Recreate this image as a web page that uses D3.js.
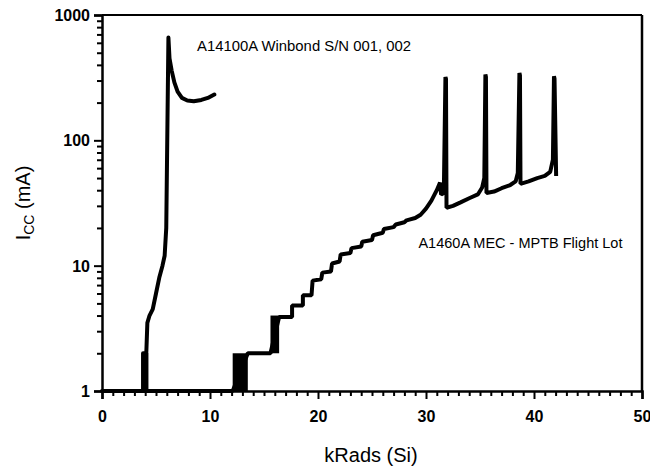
<!DOCTYPE html>
<html><head><meta charset="utf-8">
<script src="https://cdn.jsdelivr.net/npm/d3@7"></script>
<style>body{margin:0;background:#fff}svg{display:block}</style>
</head><body><svg id="c" width="650" height="466"></svg>
<script>
const xTicks = [0, 10, 20, 30, 40, 50];
const yTicks = [1, 10, 100, 1000];
const winbondX = [0, 3.8, 3.8, 4.1, 4.2, 4.4, 4.7, 5.0, 5.3, 5.6, 5.8, 5.95, 6.15, 6.25, 6.45, 6.7, 7.0, 7.4, 7.9, 8.5, 9.2, 9.8, 10.4];
const winbondY = [1, 1, 2, 2, 3.5, 4, 4.5, 6, 8, 10, 12, 20, 660, 450, 360, 290, 245, 218, 208, 205, 210, 218, 232];
const mecX = [0, 12.1, 13.5, 15.6, 16.4, 17.6, 17.6, 18.6, 18.6, 19.4, 19.5, 20.3, 20.4, 21.2, 21.3, 22.0, 22.1, 23.0, 23.1, 24.0, 24.1, 25.0, 25.1, 26.0, 26.1, 27.0, 27.2, 28.0, 28.2, 29.0, 29.5, 30.0, 30.5, 31.0, 31.3, 31.4, 31.65, 31.8, 31.85, 31.9, 32.5, 33.2, 34.0, 34.8, 35.2, 35.4, 35.5, 35.55, 35.6, 36.3, 37.0, 37.8, 38.3, 38.5, 38.65, 38.7, 38.75, 39.5, 40.3, 41.0, 41.5, 41.75, 41.85, 41.9, 42.05];
const mecY = [1, 1, 2, 2, 3.9, 3.9, 4.8, 4.8, 5.8, 5.8, 7.6, 7.8, 8.8, 9.0, 10.4, 10.8, 12.3, 12.6, 13.8, 14.2, 15.5, 16, 17.5, 18.3, 19.6, 20.3, 21.3, 22.2, 23.0, 24, 25.5, 28.5, 33, 40, 46, 37, 38, 320, 310, 29, 30, 32, 34.5, 37, 42, 50, 335, 320, 38, 39, 41.5, 44, 47, 55, 345, 330, 45, 47, 50, 52, 56, 70, 325, 310, 52];
// noisy regions drawn as filled bands
const bandX0 = [3.8, 12.1, 15.6];
const bandX1 = [4.3, 13.5, 16.4];
const bandY0 = [1, 1, 2];
const bandY1 = [2, 2, 4];
const labels = ["A14100A Winbond S/N 001, 002", "A1460A MEC - MPTB Flight Lot"];
const labelX = [8.8, 29.3];
const labelY = [516, 13.8];

const svg = d3.select("#c");
const L = 102, R = 642, T = 15, B = 391;
const x = d3.scaleLinear().domain([0, 50]).range([L, R]);
const y = d3.scaleLog().domain([1, 1000]).range([B, T]);

// frame
svg.append("line").attr("x1", L).attr("x2", R).attr("y1", T).attr("y2", T).attr("stroke", "#000").attr("stroke-width", 2);
svg.append("line").attr("x1", R).attr("x2", R).attr("y1", T).attr("y2", B).attr("stroke", "#000").attr("stroke-width", 2.5);

// axes
const minorY = [];
for (let d = 1; d < 1000; d *= 10) for (let k = 2; k <= 9; k++) minorY.push(d * k);
const minorX = d3.range(0, 51, 1).filter(v => v % 10 !== 0);

const yAx = svg.append("g").attr("transform", `translate(${L},0)`)
  .call(d3.axisLeft(y).tickValues(yTicks).tickFormat(d3.format("d")).tickSize(8).tickPadding(4));
svg.append("g").attr("transform", `translate(${L},0)`)
  .call(d3.axisLeft(y).tickValues(minorY).tickFormat("").tickSize(5))
  .call(g => g.select(".domain").remove());
const xAx = svg.append("g").attr("transform", `translate(0,${B})`)
  .call(d3.axisBottom(x).tickValues(xTicks).tickSize(8).tickPadding(12));
svg.append("g").attr("transform", `translate(0,${B})`)
  .call(d3.axisBottom(x).tickValues(minorX).tickFormat("").tickSize(5))
  .call(g => g.select(".domain").remove());
svg.selectAll(".tick line").attr("stroke-width", 2);
svg.selectAll(".domain").attr("stroke-width", 2.5);
svg.selectAll(".tick text").attr("font-family", "Liberation Sans, Arial, sans-serif")
  .attr("font-weight", "bold").attr("font-size", 16).attr("fill", "#000");
yAx.selectAll(".tick text").attr("dy", "0.35em");

// bands
svg.append("g").selectAll("rect").data(bandX0).join("rect")
  .attr("x", (d, i) => x(d)).attr("width", (d, i) => x(bandX1[i]) - x(d))
  .attr("y", (d, i) => y(bandY1[i])).attr("height", (d, i) => y(bandY0[i]) - y(bandY1[i]))
  .attr("fill", "#000");

const line = d3.line().x(d => x(d[0])).y(d => y(d[1]));
svg.append("path").datum(winbondX.map((v, i) => [v, winbondY[i]]))
  .attr("d", line).attr("fill", "none").attr("stroke", "#000").attr("stroke-width", 4)
  .attr("stroke-linejoin", "round").attr("stroke-linecap", "round");
svg.append("path").datum(mecX.map((v, i) => [v, mecY[i]]))
  .attr("d", line).attr("fill", "none").attr("stroke", "#000").attr("stroke-width", 4)
  .attr("stroke-linejoin", "bevel").attr("stroke-linecap", "butt");

// annotations
svg.append("g").selectAll("text").data(labels).join("text")
  .attr("x", (d, i) => x(labelX[i])).attr("y", (d, i) => y(labelY[i]))
  .attr("font-family", "Liberation Sans, Arial, sans-serif").attr("font-size", 14)
  .attr("textLength", (d, i) => i === 0 ? 214 : 204).attr("lengthAdjust", "spacingAndGlyphs")
  .attr("fill", "#000").text(d => d);

// axis titles
svg.append("text").attr("x", 371).attr("y", 462).attr("text-anchor", "middle")
  .attr("font-family", "Liberation Sans, Arial, sans-serif").attr("font-size", 20)
  .attr("fill", "#000").text("kRads (Si)");
const yt = svg.append("text").attr("transform", "translate(30,203) rotate(-90)")
  .attr("text-anchor", "middle").attr("font-family", "Liberation Sans, Arial, sans-serif")
  .attr("font-size", 20).attr("fill", "#000");
yt.append("tspan").text("I");
yt.append("tspan").attr("font-size", 14).attr("dy", 4).text("CC");
yt.append("tspan").attr("dy", -4).text(" (mA)");
</script></body></html>
